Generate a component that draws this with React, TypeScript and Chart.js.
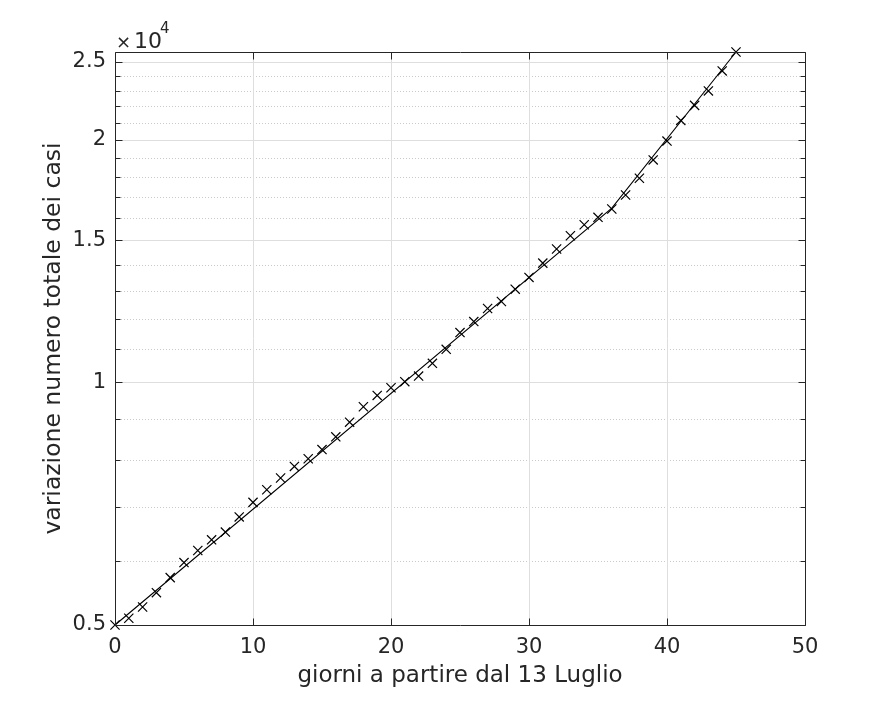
import React, { useEffect, useRef } from "react";
import { Chart, registerables } from "chart.js";

Chart.register(...registerables);

const days = [0,1,2,3,4,5,6,7,8,9,10,11,12,13,14,15,16,17,18,19,20,21,22,23,24,25,26,27,28,29,30,31,32,33,34,35,36,37,38,39,40,41,42,43,44,45];
const cases = [5000,5097,5264,5484,5725,5976,6186,6378,6520,6809,7098,7359,7610,7866,8040,8253,8559,8925,9327,9634,9849,10020,10182,10559,10991,11529,11898,12350,12600,13051,13497,14060,14637,15205,15690,16026,16410,17080,17918,18880,19925,21135,22066,22995,24349,25700];
const fitDays = [0, 36, 45];
const fitValues = [5000, 16450, 25700];
const xTicks = [0, 10, 20, 30, 40, 50];
const yMajorTicks = [5000, 10000, 15000, 20000, 25000];
const yMinorTicks = [6000,7000,8000,9000,11000,12000,13000,14000,16000,17000,18000,19000,21000,22000,23000,24000];
const xLabel = "giorni a partire dal 13 Luglio";
const yLabel = "variazione numero totale dei casi";

const TEXT = "#262626";
const FONT = "'DejaVu Sans', sans-serif";

const framePlugin = {
  id: "frame",
  beforeDatasetsDraw(chart: any) {
    const { ctx, chartArea: a, scales } = chart;
    const x = scales.x, y = scales.y;
    ctx.save();
    ctx.lineWidth = 1;
    ctx.strokeStyle = "#cacaca";
    ctx.setLineDash([1, 2]);
    for (const v of yMinorTicks) {
      const py = Math.round(y.getPixelForValue(v)) + 0.5;
      ctx.beginPath(); ctx.moveTo(a.left, py); ctx.lineTo(a.right, py); ctx.stroke();
    }
    ctx.setLineDash([]);
    ctx.strokeStyle = "#dedede";
    for (const v of yMajorTicks) {
      const py = Math.round(y.getPixelForValue(v)) + 0.5;
      ctx.beginPath(); ctx.moveTo(a.left, py); ctx.lineTo(a.right, py); ctx.stroke();
    }
    for (const v of xTicks) {
      const px = Math.round(x.getPixelForValue(v)) + 0.5;
      ctx.beginPath(); ctx.moveTo(px, a.top); ctx.lineTo(px, a.bottom); ctx.stroke();
    }
    ctx.restore();
  },
  afterDraw(chart: any) {
    const { ctx, chartArea: a, scales } = chart;
    const x = scales.x, y = scales.y;
    ctx.save();
    ctx.strokeStyle = TEXT;
    ctx.lineWidth = 1;
    const L = a.left + 0.5, R = a.right + 0.5, T = a.top + 0.5, B = a.bottom + 0.5;
    ctx.beginPath();
    ctx.rect(L, T, R - L, B - T);
    ctx.stroke();
    const tick = (v: number, len: number) => {
      const py = Math.round(y.getPixelForValue(v)) + 0.5;
      ctx.beginPath();
      ctx.moveTo(L, py); ctx.lineTo(L + len, py);
      ctx.moveTo(R, py); ctx.lineTo(R - len, py);
      ctx.stroke();
    };
    yMajorTicks.forEach((v) => tick(v, 7));
    yMinorTicks.forEach((v) => tick(v, 5));
    for (const v of xTicks) {
      const px = Math.round(x.getPixelForValue(v)) + 0.5;
      ctx.beginPath();
      ctx.moveTo(px, B); ctx.lineTo(px, B - 7);
      ctx.moveTo(px, T); ctx.lineTo(px, T + 7);
      ctx.stroke();
    }
    // exponent label
    ctx.fillStyle = TEXT;
    ctx.textBaseline = "alphabetic";
    ctx.textAlign = "left";
    ctx.font = `18px ${FONT}`;
    ctx.fillText("\u00d7", a.left + 1, a.top - 4);
    ctx.font = `22px ${FONT}`;
    ctx.fillText("10", a.left + 19, a.top - 4);
    ctx.font = `15px ${FONT}`;
    ctx.fillText("4", a.left + 45, a.top - 19);
    ctx.restore();
  },
};

export default function App() {
  const ref = useRef<HTMLCanvasElement>(null);
  useEffect(() => {
    if (!ref.current) return;
    const chart = new Chart(ref.current, {
      type: "line",
      data: {
        datasets: [
          {
            label: "dati",
            data: days.map((d, i) => ({ x: d, y: cases[i] })),
            showLine: false,
            pointStyle: "crossRot",
            pointRadius: 6.5,
            pointBorderWidth: 1.2,
            borderColor: "#000",
            backgroundColor: "#000",
            clip: false as any,
          },
          {
            label: "fit",
            data: fitDays.map((d, i) => ({ x: d, y: fitValues[i] })),
            pointRadius: 0,
            borderWidth: 1.1,
            borderColor: "#000",
            fill: false,
            clip: false as any,
          },
        ],
      },
      options: {
        responsive: false,
        animation: false,
        devicePixelRatio: 1,
        layout: { padding: { top: 52, right: 86, left: 0, bottom: 0 } },
        plugins: { legend: { display: false }, tooltip: { enabled: false } },
        scales: {
          x: {
            type: "linear",
            min: 0,
            max: 50,
            afterBuildTicks: (s: any) => { s.ticks = xTicks.map((v) => ({ value: v })); },
            afterFit: (s: any) => { s.height = 78; },
            ticks: { font: { size: 21, family: FONT }, color: TEXT, padding: 10 },
            grid: { display: false, drawTicks: false },
            border: { display: false },
            title: { display: true, text: xLabel, color: TEXT, font: { size: 23, family: FONT }, padding: { top: 0, bottom: 13 } },
          },
          y: {
            type: "logarithmic",
            min: 5000,
            max: 25700,
            afterBuildTicks: (s: any) => { s.ticks = yMajorTicks.map((v) => ({ value: v })); },
            afterFit: (s: any) => { s.width = 115; },
            ticks: {
              font: { size: 21, family: FONT },
              color: TEXT,
              padding: 9,
              callback: (v: any) => String(Number(v) / 10000),
            },
            grid: { display: false, drawTicks: false },
            border: { display: false },
            title: { display: true, text: yLabel, color: TEXT, font: { size: 23.5, family: FONT }, padding: { top: 40, bottom: 0 } },
          },
        },
      },
      plugins: [framePlugin],
    });
    return () => chart.destroy();
  }, []);
  return (
    <div style={{ position: "fixed", left: 0, top: 0, width: 891, height: 703, background: "#fff" }}>
      <canvas ref={ref} width={891} height={703} />
    </div>
  );
}
